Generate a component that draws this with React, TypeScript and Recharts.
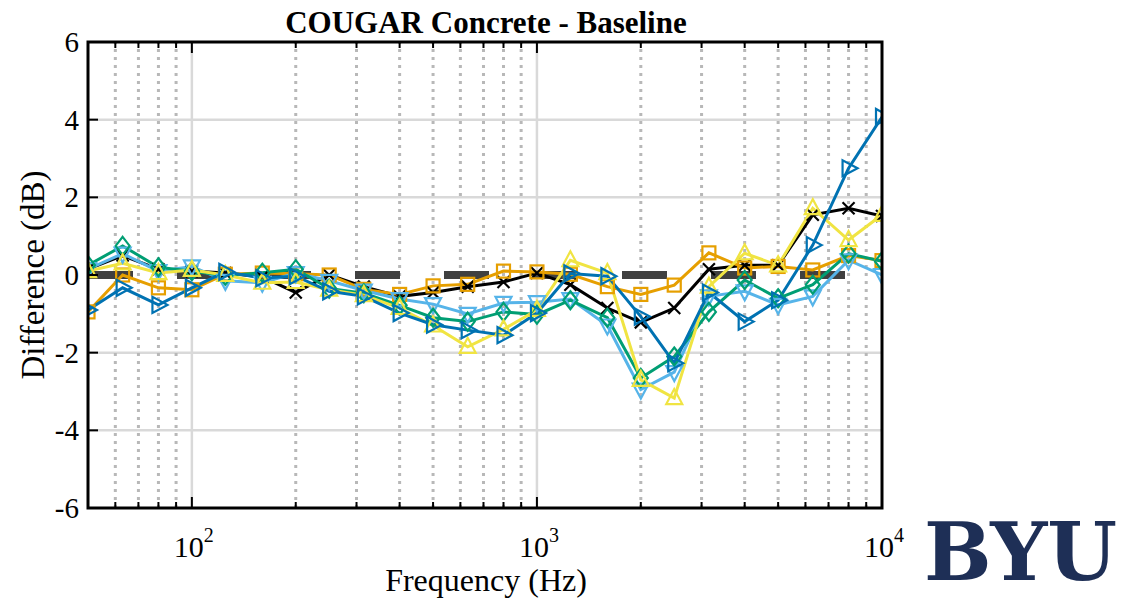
import React from 'react';
import { LineChart, Line, XAxis, YAxis, ReferenceLine } from 'recharts';

const freqs = [50, 63, 80, 100, 125, 160, 200, 250, 315, 400, 500, 630, 800, 1000, 1250, 1600, 2000, 2500, 3150, 4000, 5000, 6300, 8000, 10000];
const blackVals = [0.15, 0.5, 0.15, 0.1, 0.05, -0.05, -0.45, 0.0, -0.3, -0.55, -0.45, -0.3, -0.18, 0.05, -0.25, -0.85, -1.22, -0.85, 0.15, 0.25, 0.25, 1.55, 1.72, 1.52];
const orangeVals = [-0.95, 0.0, -0.33, -0.38, 0.02, 0.05, 0.03, 0.0, -0.37, -0.5, -0.28, -0.24, 0.1, 0.08, 0.02, -0.3, -0.5, -0.26, 0.57, 0.18, 0.22, 0.13, 0.5, 0.37];
const skyVals = [0.15, 0.55, 0.1, 0.22, -0.15, -0.2, 0.05, -0.15, -0.4, -0.62, -0.75, -1.0, -0.72, -0.7, -0.62, -1.3, -2.95, -2.5, -0.55, -0.42, -0.77, -0.55, 0.38, 0.0];
const greenVals = [0.25, 0.75, 0.2, 0.1, -0.02, 0.06, 0.15, -0.35, -0.47, -0.78, -1.1, -1.2, -0.95, -1.02, -0.65, -1.1, -2.65, -2.1, -0.95, -0.13, -0.6, -0.25, 0.55, 0.35];
const yellowVals = [0.1, 0.3, 0.05, 0.13, 0.0, -0.2, -0.18, -0.38, -0.52, -0.85, -1.3, -1.85, -1.4, -0.9, 0.38, 0.05, -2.7, -3.17, -0.3, 0.56, 0.25, 1.72, 0.9, 1.55];
const blueVals = [-0.9, -0.33, -0.77, -0.33, 0.08, -0.08, -0.03, -0.42, -0.55, -0.98, -1.28, -1.42, -1.55, -0.98, 0.04, -0.03, -1.07, -2.27, -0.45, -1.2, -0.65, 0.77, 2.75, 4.07];

const majorX = [100, 1000, 10000];
const minorX = [60, 70, 80, 90, 200, 300, 400, 500, 600, 700, 800, 900, 2000, 3000, 4000, 5000, 6000, 7000, 8000, 9000];
const allX = [...minorX, ...majorX].sort((a, b) => a - b);
const yTicks = [-6, -4, -2, 0, 2, 4, 6];
const yGrid = [-4, -2, 2, 4];

const title = 'COUGAR Concrete - Baseline';
const xLabel = 'Frequency (Hz)';
const yLabel = 'Difference (dB)';

const series = [
  { key: 'black', vals: blackVals, color: '#000000', shape: 'x' },
  { key: 'orange', vals: orangeVals, color: '#E69F00', shape: 'square' },
  { key: 'sky', vals: skyVals, color: '#56B4E9', shape: 'down' },
  { key: 'green', vals: greenVals, color: '#009E73', shape: 'diamond' },
  { key: 'yellow', vals: yellowVals, color: '#F0E442', shape: 'up' },
  { key: 'blue', vals: blueVals, color: '#0072B2', shape: 'right' },
];

const data = freqs.map((f, i) => {
  const row: any = { f };
  series.forEach((s) => { row[s.key] = s.vals[i]; });
  return row;
});

const FONT = '"Liberation Serif", "Times New Roman", serif';

const Marker = ({ cx, cy, shape, color }: any) => {
  if (cx == null || cy == null) return null;
  const sw = 2.2;
  if (shape === 'x') {
    const d = 6;
    return (
      <g>
        <line x1={cx - d} y1={cy - d} x2={cx + d} y2={cy + d} stroke={color} strokeWidth={sw} />
        <line x1={cx - d} y1={cy + d} x2={cx + d} y2={cy - d} stroke={color} strokeWidth={sw} />
      </g>
    );
  }
  if (shape === 'square') {
    return <rect x={cx - 6.5} y={cy - 6.5} width={13} height={13} fill="none" stroke={color} strokeWidth={sw} />;
  }
  let pts = '';
  if (shape === 'up') pts = `${cx},${cy - 9} ${cx - 8},${cy + 6} ${cx + 8},${cy + 6}`;
  if (shape === 'down') pts = `${cx},${cy + 9} ${cx - 8},${cy - 6} ${cx + 8},${cy - 6}`;
  if (shape === 'right') pts = `${cx + 9},${cy} ${cx - 6},${cy - 8} ${cx - 6},${cy + 8}`;
  if (shape === 'diamond') pts = `${cx},${cy - 9} ${cx + 7},${cy} ${cx},${cy + 9} ${cx - 7},${cy}`;
  return <polygon points={pts} fill="none" stroke={color} strokeWidth={sw} />;
};

const BottomTick = (props: any) => {
  const { x, payload } = props;
  const y = 508;
  const v = payload.value;
  const major = majorX.includes(v);
  const exp = Math.round(Math.log10(v));
  return (
    <g>
      <line x1={x} x2={x} y1={y} y2={y - (major ? 11 : 6)} stroke="#000" strokeWidth={2} />
      {major && (
        <text x={x + 2} y={y + 49} textAnchor="middle" fontFamily={FONT} fontSize={30} fill="#000">
          10<tspan dy={-15} fontSize={20}>{exp}</tspan>
        </text>
      )}
    </g>
  );
};

const TopTick = (props: any) => {
  const { x, payload } = props;
  const y = 42;
  const major = majorX.includes(payload.value);
  return <line x1={x} x2={x} y1={y} y2={y + (major ? 11 : 6)} stroke="#000" strokeWidth={2} />;
};

const LeftTick = (props: any) => {
  const { y, payload } = props;
  const x = 88;
  return (
    <g>
      <line x1={x} x2={x + 10} y1={y} y2={y} stroke="#000" strokeWidth={2} />
      <text x={x - 9} y={y + 10} textAnchor="end" fontFamily={FONT} fontSize={29} fill="#000">{payload.value}</text>
    </g>
  );
};

const RightTick = (props: any) => {
  const { y } = props;
  const x = 882;
  return <line x1={x} x2={x - 10} y1={y} y2={y} stroke="#000" strokeWidth={2} />;
};

export default function App() {
  return (
    <div style={{ position: 'absolute', left: 0, top: 0, width: 1143, height: 600, background: '#fff' }}>
      <LineChart width={1143} height={600} data={data} margin={{ top: 41, right: 260, bottom: 91, left: 87 }}>
        <XAxis dataKey="f" type="number" scale="log" domain={[50, 10000]} allowDataOverflow ticks={allX}
          height={1} tickSize={0} tickMargin={0} interval={0} tickLine={false}
          axisLine={false} tick={<BottomTick />} />
        <XAxis xAxisId="top" orientation="top" dataKey="f" type="number" scale="log" domain={[50, 10000]} allowDataOverflow ticks={allX}
          height={1} tickSize={0} tickMargin={0} interval={0} tickLine={false}
          axisLine={false} tick={<TopTick />} />
        <YAxis type="number" domain={[-6, 6]} ticks={yTicks} width={1} tickSize={0} tickMargin={0} interval={0}
          tickLine={false} axisLine={false} tick={<LeftTick />} />
        <YAxis yAxisId="right" orientation="right" type="number" domain={[-6, 6]} ticks={yTicks} width={1} tickSize={0} tickMargin={0} interval={0}
          tickLine={false} axisLine={false} tick={<RightTick />} />
        {yGrid.map((v) => (
          <ReferenceLine key={`hg${v}`} y={v} stroke="#d9d9d9" strokeWidth={2.5} />
        ))}
        {minorX.map((v) => (
          <ReferenceLine key={`vm${v}`} x={v} stroke="#b8b8b8" strokeWidth={3} strokeDasharray="3 5" />
        ))}
        {[100, 1000].map((v) => (
          <ReferenceLine key={`vM${v}`} x={v} stroke="#d9d9d9" strokeWidth={2.5} />
        ))}
        <ReferenceLine y={0} stroke="#404040" strokeWidth={8} strokeDasharray="45 44" />
        {series.map((s) => (
          <Line key={s.key} dataKey={s.key} stroke={s.color} strokeWidth={3} isAnimationActive={false}
            dot={(p: any) => <Marker key={`${s.key}-${p.index}`} cx={p.cx} cy={p.cy} shape={s.shape} color={s.color} />}
            activeDot={false} />
        ))}
      </LineChart>
      <svg width={1143} height={600} style={{ position: 'absolute', left: 0, top: 0, pointerEvents: 'none' }}>
        <rect x={88} y={42} width={794} height={466} fill="none" stroke="#000" strokeWidth={3} />
        <text x={486} y={33} textAnchor="middle" fontFamily={FONT} fontWeight="bold" fontSize={31} fill="#000">{title}</text>
        <text x={486} y={591} textAnchor="middle" fontFamily={FONT} fontSize={32} fill="#000">{xLabel}</text>
        <text x={44} y={275} textAnchor="middle" fontFamily={FONT} fontSize={33} fill="#000" transform="rotate(-90, 44, 275)">{yLabel}</text>
        <text x={924} y={580} fontFamily='"DejaVu Serif", serif' fontWeight="bold" fontSize={80} fill="#1E2F56">BYU</text>
      </svg>
    </div>
  );
}
